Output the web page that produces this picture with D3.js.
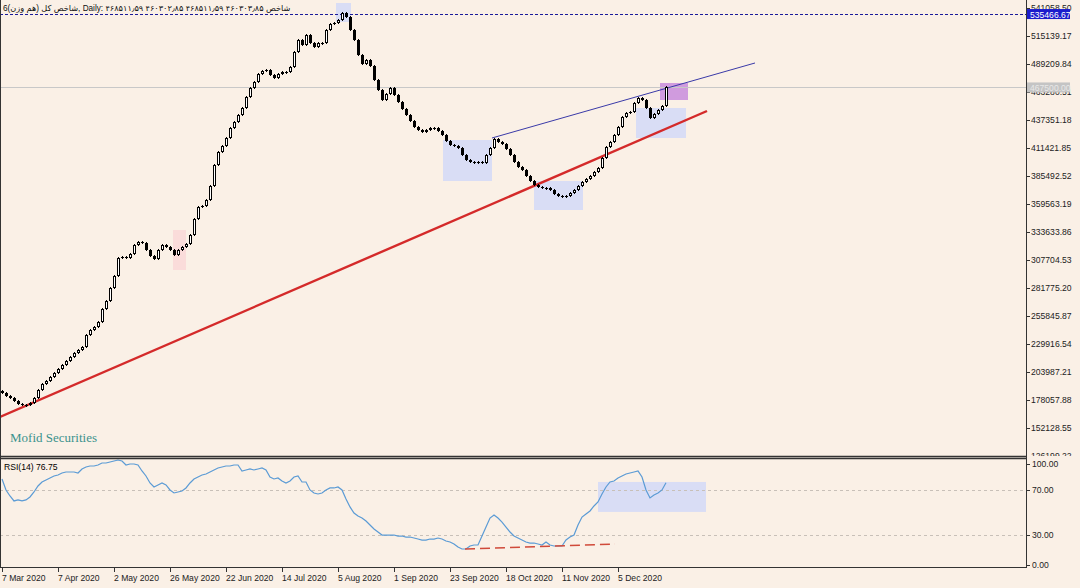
<!DOCTYPE html>
<html><head><meta charset="utf-8">
<script src="https://cdn.jsdelivr.net/npm/d3@7/dist/d3.min.js"></script>
<style>
html,body{margin:0;padding:0;background:#faf0e6;}
svg{display:block;}
text{font-family:"Liberation Sans","DejaVu Sans",sans-serif;}
</style></head>
<body>
<svg id="c" width="1080" height="588"></svg>
<script>
// ---------- DATA ----------
const closes = [184557,181779,179927,177149,174371,173445,173445,175297,179927,187335,
192891,195669,199373,203077,206781,210485,214189,217893,221597,224375,
227153,238265,242895,245673,250303,262341,269729,281787,292899,309567,
310493,309567,313271,321605,324383,323457,316975,311419,308641,316975,
321605,319753,316975,312345,316975,319753,322531,330865,345355,356793,
357719,363275,376239,395685,407723,413279,420687,429947,435503,441985,
448467,458653,466987,472543,479951,482729,483655,479025,476247,479951,
481803,481803,486433,500323,511435,506805,516065,508657,504953,508657,
508657,520695,526251,527177,529955,536437,532733,520695,511435,497545,
489211,492915,487359,474395,465135,455875,461431,466987,460505,454023,
447541,441985,436429,430873,428095,426243,428095,429947,429947,427169,
423465,417909,414205,413279,411427,404945,400315,398463,398463,398463,
397537,404945,411427,419761,416983,415131,410501,404945,398463,393833,
391055,385499,380869,377165,375313,374387,374387,372535,368831,366979,
366053,366979,369757,372535,376239,379943,382721,385499,389203,392907,
402167,412353,416983,423465,430873,440133,443837,444763,453097,457727,
455875,448467,439207,442911,446615,450319,467500];
const firstOpen = 186400;

const rsi = [80.2,70.3,64.9,60.4,61.3,60.4,61.3,64.0,68.5,73.9,
77.5,79.3,81.1,82.9,83.8,85.6,86.5,86.5,86.5,85.6,
89.2,91.0,91.9,91.9,92.8,94.6,94.6,95.5,96.4,97.3,
96.4,92.8,93.7,93.7,92.8,87.4,82.9,76.6,73.0,74.8,
76.6,74.8,70.3,67.6,68.5,69.4,72.1,76.6,80.2,82.0,
83.8,84.7,86.5,88.3,90.1,91.0,91.9,91.9,92.8,92.8,
87.4,88.3,89.2,88.3,89.2,90.1,88.3,82.0,80.2,81.1,
78.4,76.6,78.4,82.0,82.9,77.5,77.5,70.3,67.6,66.7,
67.6,70.3,72.1,72.1,73.0,70.3,62.2,55.0,49.5,46.8,
45.0,42.3,38.7,35.1,32.4,29.7,29.7,29.7,29.7,28.8,
28.8,27.9,27.9,27.0,26.1,25.2,25.2,26.1,26.1,27.0,
26.1,24.3,23.4,21.6,18.9,17.1,17.1,19.8,20.7,20.7,
28.8,36.9,45.0,47.7,45.0,41.4,36.9,32.4,28.8,27.0,
25.2,23.4,22.5,22.5,21.6,20.7,23.4,20.7,19.8,19.8,
19.8,25.2,27.9,29.7,38.7,45.9,48.6,51.4,55.9,59.5,
66.7,73.0,77.5,78.4,81.1,82.9,84.7,85.6,86.5,87.4,
82.0,70.3,63.1,65.8,67.6,70.3,76.75];

const priceTicks = [126199.22,152128.55,178057.88,203987.21,229916.54,255845.87,281775.20,307704.53,333633.86,359563.19,385492.52,411421.85,437351.18,463280.51,489209.84,515139.17,541058.50];
const rsiTicks = [0,30,70,100];
const rsiLevels = [30,70];
const dateLabels = ["7 Mar 2020","7 Apr 2020","2 May 2020","26 May 2020","22 Jun 2020","14 Jul 2020","5 Aug 2020","1 Sep 2020","23 Sep 2020","18 Oct 2020","11 Nov 2020","5 Dec 2020"];
const barsPerLabel = 14;
const maxLine = 535466.67;

// trend lines: [bar index, value]
const redTrend = [[-0.5,162333],[176.25,445689]];
const blueTrend = [[122.5,420687],[188.25,490137]];
const rsiTrend = [[115.75,17.1],[153.25,21.6]];

// highlight boxes: [i0,i1,v0,v1,color]
const boxes = [
  [83.5,87.25,528103,545697,"rgba(205,215,250,0.75)"],
  [110.25,122.5,380869,418835,"rgba(205,215,250,0.75)"],
  [133,145.25,354015,380869,"rgba(205,215,250,0.75)"],
  [158.5,171,420687,448467,"rgba(205,215,250,0.75)"],
  [164.5,171.5,455875,471617,"rgba(200,140,220,0.85)"],
  [42.75,46,298455,335495,"rgba(250,215,215,0.8)"]
];
const rsiBoxes = [[149,176,50.5,77.5,"rgba(205,215,250,0.75)"]];

// ---------- LAYOUT ----------
const svg = d3.select("#c");
const W = 1080, H = 588;
const plotR = 1026;
const mainTop = 1, mainBot = 456;
const rsiTop = 459, rsiBot = 567;

const x = d3.scaleLinear().domain([0,166]).range([2,666]);
const y = d3.scaleLinear().domain([152128.55,515139.17]).range([428,36]);
const yr = d3.scaleLinear().domain([0,100]).range([568,457]);

svg.append("rect").attr("width",W).attr("height",H).attr("fill","#faf0e6");

const defs = svg.append("defs");
defs.append("clipPath").attr("id","mainClip").append("rect")
  .attr("x",1).attr("y",mainTop).attr("width",plotR-1).attr("height",mainBot-mainTop);
defs.append("clipPath").attr("id","rsiClip").append("rect")
  .attr("x",1).attr("y",rsiTop).attr("width",plotR-1).attr("height",rsiBot-rsiTop);
defs.append("clipPath").attr("id","axisClip").append("rect")
  .attr("x",plotR).attr("y",0).attr("width",W-plotR).attr("height",mainBot);

const main = svg.append("g").attr("clip-path","url(#mainClip)");

// boxes
main.selectAll("rect.box").data(boxes).enter().append("rect")
  .attr("x",d=>x(d[0])).attr("width",d=>x(d[1])-x(d[0]))
  .attr("y",d=>y(d[3])).attr("height",d=>y(d[2])-y(d[3]))
  .attr("fill",d=>d[4]);

// max dashed line
main.append("line").attr("x1",0).attr("x2",plotR).attr("y1",Math.round(y(maxLine))+0.5).attr("y2",Math.round(y(maxLine))+0.5)
  .attr("stroke","#1a1a9a").attr("stroke-width",1).attr("stroke-dasharray","3,2");

// current price grey line
const last = closes[closes.length-1];
main.append("line").attr("x1",0).attr("x2",plotR).attr("y1",Math.round(y(last))+0.5).attr("y2",Math.round(y(last))+0.5)
  .attr("stroke","#c8c8c8").attr("stroke-width",1);

// trend lines
main.append("line").attr("x1",x(redTrend[0][0])).attr("y1",y(redTrend[0][1]))
  .attr("x2",x(redTrend[1][0])).attr("y2",y(redTrend[1][1]))
  .attr("stroke","#d42a2a").attr("stroke-width",2.4);
main.append("line").attr("x1",x(blueTrend[0][0])).attr("y1",y(blueTrend[0][1]))
  .attr("x2",x(blueTrend[1][0])).attr("y2",y(blueTrend[1][1]))
  .attr("stroke","#3a3aa8").attr("stroke-width",1);

// candles
const candles = closes.map((c,i)=>({i, o: i===0?firstOpen:closes[i-1], c}));
const cg = main.append("g");
candles.forEach(d=>{
  const cx = Math.round(x(d.i));
  const top = Math.round(y(Math.max(d.o,d.c)));
  const bot = Math.round(y(Math.min(d.o,d.c)));
  const up = d.c >= d.o;
  const h = Math.max(1, bot-top);
  cg.append("line").attr("x1",cx+0.5).attr("x2",cx+0.5).attr("y1",top-1).attr("y2",top+h+1)
    .attr("stroke","#000").attr("stroke-width",1);
  if (up && h>2) {
    cg.append("rect").attr("x",cx-1+0.5).attr("y",top+0.5).attr("width",2).attr("height",h-1)
      .attr("fill","#fff").attr("stroke","#000").attr("stroke-width",1);
  } else {
    cg.append("rect").attr("x",cx-1).attr("y",top).attr("width",3).attr("height",h)
      .attr("fill","#000");
  }
});

// Mofid label
svg.append("text").attr("x",10).attr("y",442).text("Mofid Securities")
  .style("font-family","'Liberation Serif','DejaVu Serif',serif").style("font-size","13px").attr("fill","#3a928d");

// ---------- RSI ----------
const rg = svg.append("g").attr("clip-path","url(#rsiClip)");
rg.selectAll("rect.rbox").data(rsiBoxes).enter().append("rect")
  .attr("x",d=>x(d[0])).attr("width",d=>x(d[1])-x(d[0]))
  .attr("y",d=>yr(d[3])).attr("height",d=>yr(d[2])-yr(d[3]))
  .attr("fill",d=>d[4]);
rg.selectAll("line.lvl").data(rsiLevels).enter().append("line")
  .attr("x1",0).attr("x2",plotR).attr("y1",d=>Math.round(yr(d))+0.5).attr("y2",d=>Math.round(yr(d))+0.5)
  .attr("stroke","#c8c0b8").attr("stroke-dasharray","3,3");
rg.append("path").datum(rsi)
  .attr("d",d3.line().x((d,i)=>x(i)).y(d=>yr(d)))
  .attr("fill","none").attr("stroke","#5b9bd5").attr("stroke-width",1.2);
rg.append("line").attr("x1",x(rsiTrend[0][0])).attr("y1",yr(rsiTrend[0][1]))
  .attr("x2",x(rsiTrend[1][0])).attr("y2",yr(rsiTrend[1][1]))
  .attr("stroke","#d04a3a").attr("stroke-width",1.5).attr("stroke-dasharray","10,5");
svg.append("text").attr("x",4).attr("y",470).text("RSI(14) " + rsi[rsi.length-1].toFixed(2))
  .style("font-size","8.6px").attr("fill","#000");

// ---------- FRAMES ----------
const frame = svg.append("g").attr("fill","none").attr("stroke","#333").attr("stroke-width",1);
frame.append("line").attr("x1",0.5).attr("x2",0.5).attr("y1",0).attr("y2",rsiBot+1);
frame.append("line").attr("x1",plotR+0.5).attr("x2",plotR+0.5).attr("y1",0).attr("y2",rsiBot+1);
frame.append("line").attr("x1",0).attr("x2",plotR+1).attr("y1",mainBot+0.5).attr("y2",mainBot+0.5).attr("stroke-width",1.5);
frame.append("line").attr("x1",0).attr("x2",plotR+1).attr("y1",rsiTop-0.5).attr("y2",rsiTop-0.5).attr("stroke-width",1.5);
frame.append("line").attr("x1",0).attr("x2",plotR+1).attr("y1",rsiBot+0.5).attr("y2",rsiBot+0.5);

// ---------- PRICE AXIS ----------
const pa = svg.append("g").attr("clip-path","url(#axisClip)");
const visTicks = priceTicks.filter(v=>y(v)>=2 && y(v)<=mainBot+2);
pa.selectAll("line").data(visTicks).enter().append("line")
  .attr("x1",plotR).attr("x2",plotR+4).attr("y1",d=>Math.round(y(d))+0.5).attr("y2",d=>Math.round(y(d))+0.5)
  .attr("stroke","#333");
pa.selectAll("text").data(visTicks).enter().append("text")
  .attr("x",plotR+5).attr("y",d=>y(d)+3).text(d=>d.toFixed(2))
  .style("font-size","8.6px").attr("fill","#222");

// max label (blue)
const my = y(maxLine);
svg.append("rect").attr("x",plotR+1).attr("y",my-5).attr("width",43).attr("height",10).attr("fill","#1c1ccc");
svg.append("text").attr("x",plotR+4).attr("y",my+3.5).text(maxLine.toFixed(2))
  .style("font-size","8.6px").attr("fill","#fff");
// current label (grey)
const ly = y(last);
svg.append("rect").attr("x",plotR+1).attr("y",ly-5).attr("width",43).attr("height",10).attr("fill","#c4c4c4");
svg.append("text").attr("x",plotR+4).attr("y",ly+3.5).text(last.toFixed(2))
  .style("font-size","8.6px").attr("fill","#e8e8e8");

// ---------- RSI AXIS ----------
const ra = svg.append("g");
rsiTicks.forEach(v=>{
  const ty = Math.min(Math.max(yr(v), rsiTop+5), rsiBot-2);
  ra.append("line").attr("x1",plotR).attr("x2",plotR+4).attr("y1",Math.round(ty)+0.5).attr("y2",Math.round(ty)+0.5).attr("stroke","#333");
  ra.append("text").attr("x",plotR+6).attr("y",ty+3).text(v.toFixed(2)).style("font-size","8.6px").attr("fill","#222");
});

// ---------- TIME AXIS ----------
const ta = svg.append("g");
dateLabels.forEach((lab,k)=>{
  const tx = Math.round(x(k*barsPerLabel));
  ta.append("line").attr("x1",tx+0.5).attr("x2",tx+0.5).attr("y1",rsiBot+1).attr("y2",rsiBot+5).attr("stroke","#333");
  ta.append("text").attr("x",tx).attr("y",581).text(lab).style("font-size","8.6px").attr("fill","#222");
});

// ---------- TITLE ----------
const titleParts = ["6(", "هم وزن", ") ", "شاخص کل", ", Daily: ", "۴۶۸۵۱۱٫۵۹", " ", "۴۶۰۳۰۲٫۸۵", " ", "۴۶۸۵۱۱٫۵۹", " ", "۴۶۰۳۰۳٫۸۵", " ", "شاخص"];
let tx = 3;
const tg = svg.append("g");
titleParts.forEach(p=>{
  const t = tg.append("text").attr("x",tx).attr("y",11).text(p)
    .style("font-size","8.2px").attr("fill","#111").style("white-space","pre").attr("xml:space","preserve");
  tx += t.node().getComputedTextLength();
});
</script>
</body></html>
